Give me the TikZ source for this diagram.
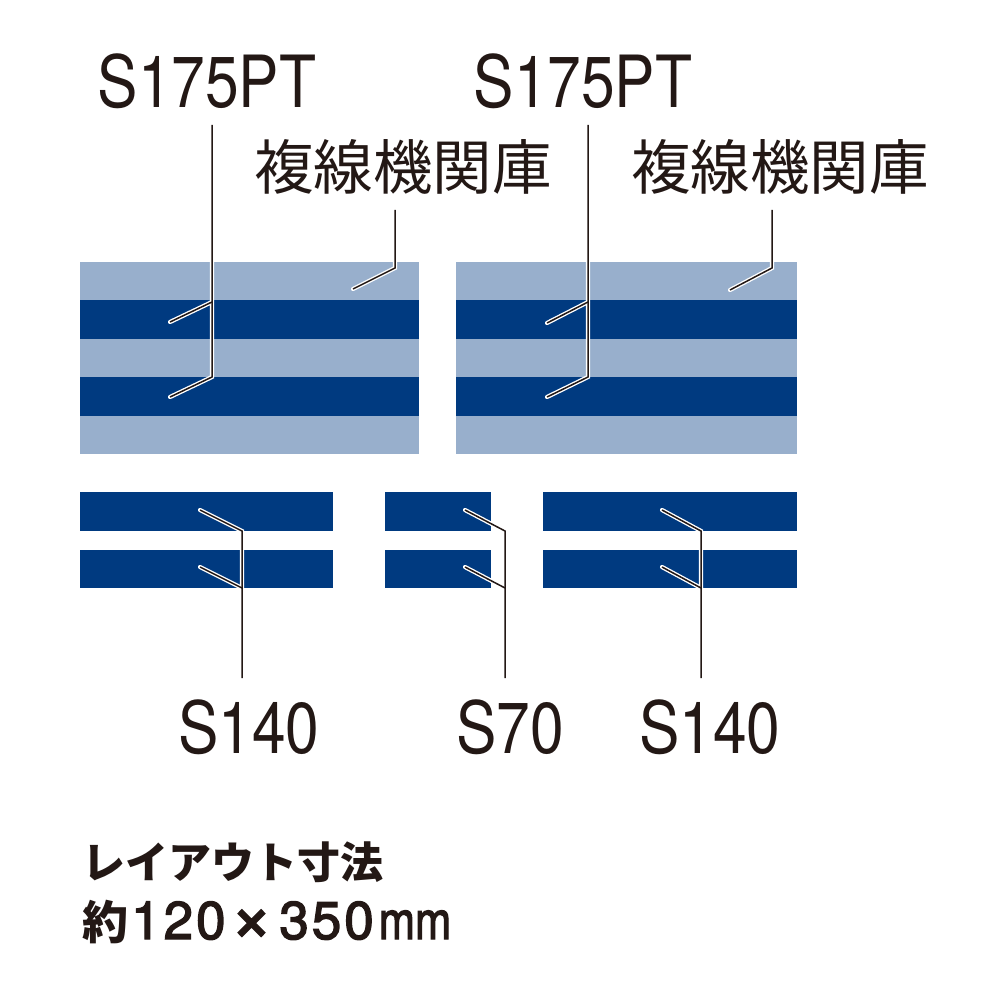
\documentclass[tikz,border=0pt]{standalone}
\usepackage{fontspec}
\setmainfont{TeX Gyre Heros}
\newfontfamily\jp{Noto Sans CJK JP}
\newfontfamily\medfont{TeX Gyre Heros}[FakeBold=2.5]
\definecolor{ink}{HTML}{231815}
\definecolor{navy}{HTML}{003A80}
\definecolor{pale}{HTML}{98AFCC}
\tikzset{
  band/.style={rectangle, inner sep=0pt, outer sep=0pt, draw=none},
  darkband/.style={band, fill=navy},
  paleband/.style={band, fill=pale},
  numlabel/.style={inner sep=0pt, text=ink, font=\fontsize{72}{72}\selectfont, xscale=0.84},
  jplabel/.style={inner sep=0pt, text=ink, font=\jp\fontsize{59.5}{60}\selectfont},
  notelabel/.style={inner sep=0pt, text=ink, font=\jp\bfseries\fontsize{43}{43}\selectfont},
  ldr/.style={draw=ink, line width=1.4pt}
}
\begin{document}
\begin{tikzpicture}[x=1pt,y=-1pt]
\useasboundingbox (0,0) rectangle (1000,1000);
\fill[white] (0,0) rectangle (1000,1000);

% double-track blocks
\node[paleband, minimum width=339pt, minimum height=192pt] (blockL) at (249.5,358) {};
\node[darkband, minimum width=339pt, minimum height=39pt] (dL1) at (249.5,319.5) {};
\node[darkband, minimum width=339pt, minimum height=39pt] (dL2) at (249.5,396.5) {};
\node[paleband, minimum width=341pt, minimum height=192pt] (blockR) at (626.5,358) {};
\node[darkband, minimum width=341pt, minimum height=39pt] (dR1) at (626.5,319.5) {};
\node[darkband, minimum width=341pt, minimum height=39pt] (dR2) at (626.5,396.5) {};

% single tracks
\node[darkband, minimum width=253pt, minimum height=39pt] (sA1) at (206.5,511.5) {};
\node[darkband, minimum width=253pt, minimum height=38pt] (sA2) at (206.5,569) {};
\node[darkband, minimum width=106pt, minimum height=39pt] (sB1) at (438,511.5) {};
\node[darkband, minimum width=106pt, minimum height=38pt] (sB2) at (438,569) {};
\node[darkband, minimum width=254pt, minimum height=39pt] (sC1) at (670,511.5) {};
\node[darkband, minimum width=254pt, minimum height=38pt] (sC2) at (670,569) {};

% labels
\node[numlabel, anchor=base] (ptL) at (207,108) {S175PT};
\node[numlabel, anchor=base] (ptR) at (583,108) {S175PT};
\node[jplabel, anchor=base west] (fkL) at (254,190) {複線機関庫};
\node[jplabel, anchor=base west] (fkR) at (631,190) {複線機関庫};
\node[numlabel, anchor=base] (s140L) at (249,753) {S140};
\node[numlabel, anchor=base] (s70) at (510,753) {S70};
\node[numlabel, anchor=base] (s140R) at (710,753) {S140};
\node[notelabel, anchor=base west] (note1) at (82,878) {レイアウト寸法};
\node[inner sep=0pt, text=ink, anchor=base west] (note2) at (82,939)
  {{\jp\bfseries\fontsize{46}{46}\selectfont 約}\kern3pt{\medfont\fontsize{53}{53}\selectfont 1\kern3pt 2\kern3pt 0\kern5pt\raisebox{-2pt}{\scalebox{1.35}{×}}\kern7pt 3\kern3pt 5\kern3pt 0\kern5pt\scalebox{0.82}[1]{mm}}};

% leader coordinates
\coordinate (ptLtop) at (212,125);
\coordinate (ptLj1) at (212,302);
\coordinate (ptLe1) at (170,322);
\coordinate (ptLj2) at (212,377);
\coordinate (ptLe2) at (170,397);
\coordinate (fkLtop) at (395,210);
\coordinate (fkLj) at (395,268);
\coordinate (fkLe) at (353,289);
\coordinate (ptRtop) at (588,125);
\coordinate (ptRj1) at (588,302);
\coordinate (ptRe1) at (547,323);
\coordinate (ptRj2) at (588,377);
\coordinate (ptRe2) at (547,397);
\coordinate (fkRtop) at (772,210);
\coordinate (fkRj) at (772,268);
\coordinate (fkRe) at (730,290);
\coordinate (aBot) at (242,678);
\coordinate (aJ1) at (242,531);
\coordinate (aE1) at (200,510);
\coordinate (aJ2) at (242,588);
\coordinate (aE2) at (200,567);
\coordinate (bBot) at (505,678);
\coordinate (bJ1) at (505,531);
\coordinate (bE1) at (465,510);
\coordinate (bJ2) at (505,588);
\coordinate (bE2) at (465,567);
\coordinate (cBot) at (701,678);
\coordinate (cJ1) at (701,531);
\coordinate (cE1) at (662,510);
\coordinate (cJ2) at (701,588);
\coordinate (cE2) at (662,567);

\def\LeaderPaths{%
  \path[ldr] (ptLtop) -- (ptLj2) -- (ptLe2);
  \path[ldr] (ptLj1) -- (ptLe1);
  \path[ldr] (fkLtop) -- (fkLj) -- (fkLe);
  \path[ldr] (ptRtop) -- (ptRj2) -- (ptRe2);
  \path[ldr] (ptRj1) -- (ptRe1);
  \path[ldr] (fkRtop) -- (fkRj) -- (fkRe);
  \path[ldr] (aBot) -- (aJ1) -- (aE1);
  \path[ldr] (aJ2) -- (aE2);
  \path[ldr] (bBot) -- (bJ1) -- (bE1);
  \path[ldr] (bJ2) -- (bE2);
  \path[ldr] (cBot) -- (cJ1) -- (cE1);
  \path[ldr] (cJ2) -- (cE2);
}
\begin{scope}[ldr/.style={draw=white, line width=4.2pt, line cap=round}]
  \LeaderPaths
\end{scope}
\begin{scope}[ldr/.style={draw=ink, line width=1.5pt}]
  \LeaderPaths
\end{scope}
\end{tikzpicture}
\end{document}
